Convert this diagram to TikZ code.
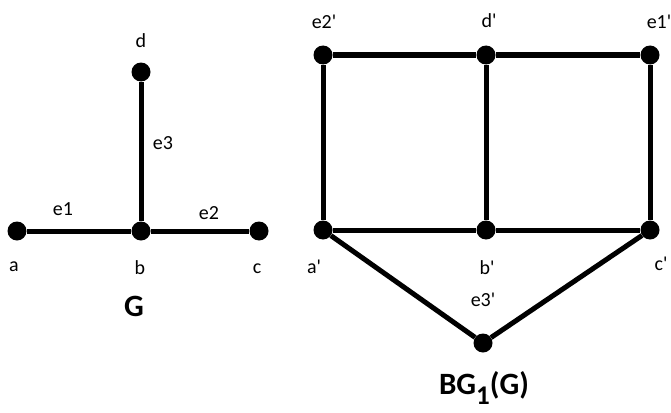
\documentclass[tikz,border=0pt]{standalone}
\usepackage{fontspec}
\setmainfont{Carlito}[Ligatures=TeXOff]
\usetikzlibrary{positioning}

\begin{document}
\begin{tikzpicture}[
    x=1pt, y=-1pt,
    vert/.style={circle, fill=black, inner sep=0pt, minimum size=19pt},
    edge/.style={line width=5pt},
    lbl/.style={font=\fontsize{20}{22}\selectfont, text=black, inner sep=0pt},
    title/.style={font=\fontsize{31}{34}\selectfont\bfseries, inner sep=0pt}
]
\useasboundingbox (0,0) rectangle (671,412);

% === Graph G ===
\node[vert] (a) at (17,231) {};
\node[vert] (b) at (141,231) {};
\node[vert] (c) at (259,231) {};
\node[vert] (d) at (141,72) {};

\draw[edge] (a) -- (b) -- (c);
\draw[edge] (b) -- (d);

\node[lbl] (la) at (14,267) {a};
\node[lbl] (lb) at (140,268) {b};
\node[lbl] (lc) at (257,269) {c};
\node[lbl] (ld) at (141,41) {d};
\node[lbl] (le1) at (63,209) {e1};
\node[lbl] (le2) at (209,213) {e2};
\node[lbl] (le3) at (163,143) {e3};
\node[title] (tg) at (134,306) {G};

% === Graph BG_1(G) ===
\node[vert] (e2p) at (323,55) {};
\node[vert] (dp) at (486,55) {};
\node[vert] (e1p) at (650,55) {};
\node[vert] (ap) at (323,230) {};
\node[vert] (bp) at (486,230) {};
\node[vert] (cp) at (650,230) {};
\node[vert] (e3p) at (483,343) {};

\draw[edge] (e2p) -- (dp) -- (e1p);
\draw[edge] (ap) -- (bp) -- (cp);
\draw[edge] (e2p) -- (ap);
\draw[edge] (dp) -- (bp);
\draw[edge] (e1p) -- (cp);
\draw[edge] (ap) -- (e3p) -- (cp);

\node[lbl] (le2p) at (324,22) {e2'};
\node[lbl] (ldp) at (489,21) {d'};
\node[lbl] (le1p) at (659,22) {e1'};
\node[lbl] (lap) at (314,267) {a'};
\node[lbl] (lbp) at (487,268) {b'};
\node[lbl] (lcp) at (661,264) {c'};
\node[lbl] (le3p) at (483,300) {e3'};
\node[title] (tbg) at (484,388) {BG\raisebox{-10pt}{\fontsize{27}{30}\selectfont 1}(G)};

\end{tikzpicture}
\end{document}
